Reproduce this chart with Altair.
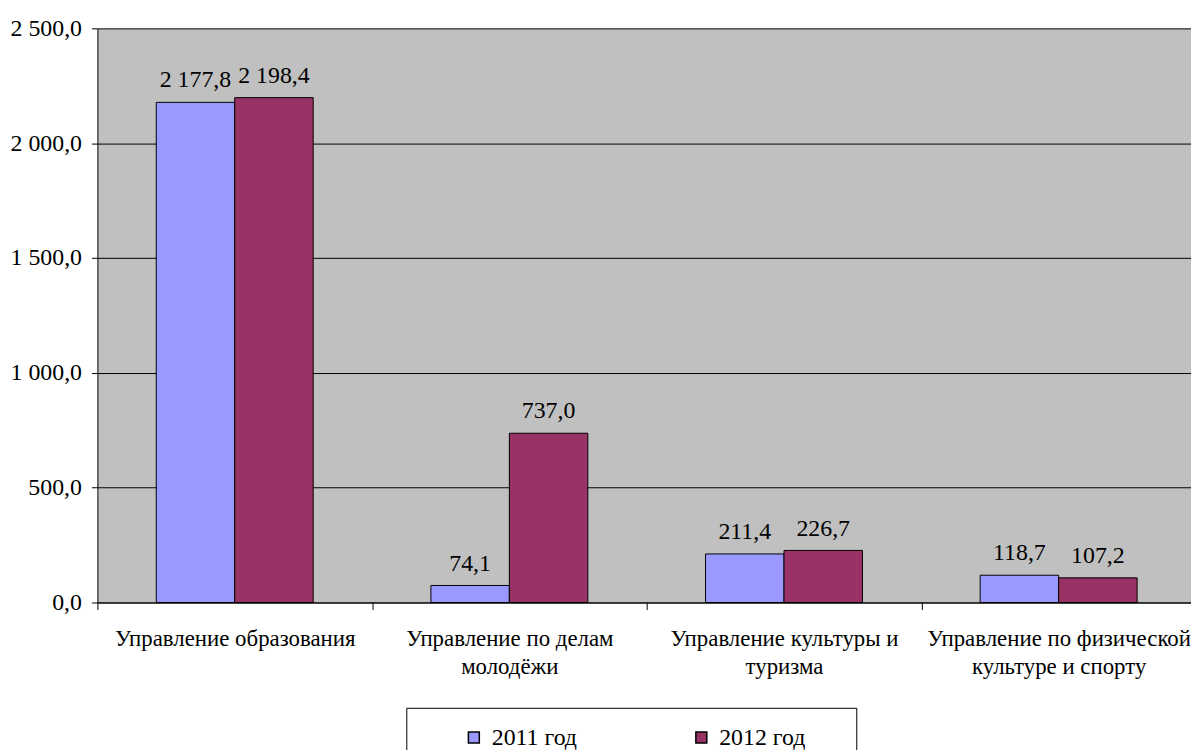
import altair as alt
import pandas as pd

categories = [
    "Управление образования",
    "Управление по делам\nмолодёжи",
    "Управление культуры и\nтуризма",
    "Управление по физической\nкультуре и спорту",
]
years = ["2011 год", "2012 год"]
values_2011 = [2177.8, 74.1, 211.4, 118.7]
values_2012 = [2198.4, 737.0, 226.7, 107.2]
colors = ["#9999FF", "#993366"]
y_ticks = [0, 500, 1000, 1500, 2000, 2500]

rows = []
for c, v1, v2 in zip(categories, values_2011, values_2012):
    rows.append({"category": c, "year": years[0], "value": v1})
    rows.append({"category": c, "year": years[1], "value": v2})
df = pd.DataFrame(rows)

FONT = "Liberation Serif"
FS_NUM = 24
FS_CAT = 23
fmt = "replace(replace(format({v}, ',.1f'), ',', ' '), '.', ',')"

RANGE_W = 1106
STEP = RANGE_W / 4

x_enc = alt.X(
    "category:N",
    sort=categories,
    scale=alt.Scale(range=[0, RANGE_W], paddingInner=0.4286, paddingOuter=0.2143),
    axis=alt.Axis(
        title=None,
        labelAngle=0,
        labelExpr="split(datum.label, '\\n')",
        labelFont=FONT,
        labelFontSize=FS_CAT,
        labelColor="black",
        labelLineHeight=28.5,
        labelPadding=18,
        labelLimit=0,
        labelOverlap=False,
        labelBound=False,
        labelFlush=False,
        tickOffset=-STEP / 2,
        labelOffset=STEP / 2,
        tickSize=7,
        tickColor="black",
        domainColor="black",
        grid=False,
    ),
)
xoff = alt.XOffset("year:N", sort=years, scale=alt.Scale(paddingInner=0, paddingOuter=0))
y_enc = alt.Y(
    "value:Q",
    scale=alt.Scale(domain=[0, 2500], nice=False, zero=True),
    axis=alt.Axis(
        title=None,
        values=y_ticks,
        labelExpr=fmt.format(v="datum.value"),
        labelFont=FONT,
        labelFontSize=FS_NUM,
        labelColor="black",
        labelPadding=10,
        tickSize=6,
        tickColor="black",
        domainColor="black",
        gridColor="black",
        gridWidth=1,
    ),
)

bars = alt.Chart(df).mark_bar(stroke="black", strokeWidth=1).encode(
    x=x_enc,
    xOffset=xoff,
    y=y_enc,
    color=alt.Color(
        "year:N",
        sort=years,
        scale=alt.Scale(domain=years, range=colors),
        legend=alt.Legend(
            title="\u00a0",
            titleOrient="right",
            titlePadding=33,
            titleFontSize=FS_NUM,
            orient="none",
            legendX=311,
            legendY=684,
            direction="horizontal",
            strokeColor="black",
            fillColor="white",
            padding=18,
            symbolType="square",
            symbolSize=121,
            symbolStrokeColor="black",
            symbolStrokeWidth=1.5,
            symbolOffset=38,
            labelFont=FONT,
            labelFontSize=FS_NUM,
            labelColor="black",
            labelOffset=6,
            columnPadding=75,
        ),
    ),
)

labels = alt.Chart(df).transform_calculate(
    lbl=fmt.format(v="datum.value")
).mark_text(font=FONT, fontSize=FS_NUM, color="black", dy=-15, baseline="alphabetic").encode(
    x=alt.X("category:N", sort=categories),
    xOffset=alt.XOffset("year:N", sort=years),
    y=alt.Y("value:Q"),
    text="lbl:N",
)

chart = alt.layer(bars, labels).properties(
    width=1101,
    height=578,
    padding={"left": 90, "top": 18, "right": 0, "bottom": 146},
    autosize=alt.AutoSizeParams(type="none"),
    background="white",
).configure_view(fill="#C0C0C0", stroke="transparent")

chart.save("out.html", embed_options={"renderer": "svg", "actions": False})
